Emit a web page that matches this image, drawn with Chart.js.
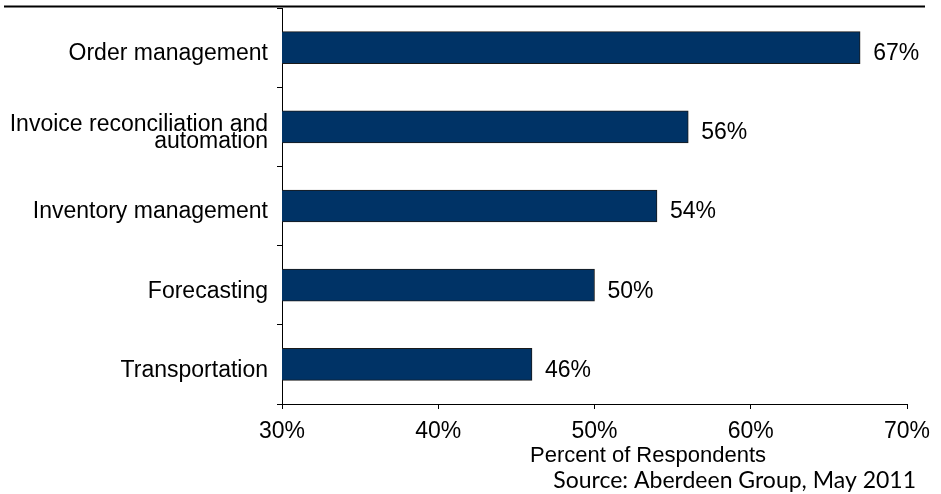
<!DOCTYPE html>
<html lang="en">
<head>
    <meta charset="UTF-8">
    <title>Supply chain areas - Percent of Respondents</title>
    <script src="https://cdn.jsdelivr.net/npm/chart.js"></script>
</head>
<body style="margin:0;background:white;">
    <canvas id="chart" width="941" height="494"></canvas>

    <script>
        // data
        const categories = [
            'Order management',
            ['Invoice reconciliation and', 'automation'],
            'Inventory management',
            'Forecasting',
            'Transportation'
        ];
        const percentValues = [67, 56, 54, 50, 46];
        const xTicks = [30, 40, 50, 60, 70];
        const axisTitle = 'Percent of Respondents';
        const sourceNote = 'Source: Aberdeen Group, May 2011';

        const FONT = "'Liberation Sans', Arial, sans-serif";

        // top rule, value labels, axis title and source line
        const extras = {
            id: 'extras',
            afterDraw(chart) {
                const ctx = chart.ctx;
                const area = chart.chartArea;
                ctx.save();
                ctx.strokeStyle = '#000';
                ctx.lineWidth = 2;
                ctx.beginPath();
                ctx.moveTo(4, area.top - 1.5);
                ctx.lineTo(925, area.top - 1.5);
                ctx.stroke();

                ctx.fillStyle = '#000';
                ctx.font = '23px ' + FONT;
                ctx.textAlign = 'left';
                ctx.textBaseline = 'middle';
                const meta = chart.getDatasetMeta(0);
                meta.data.forEach((bar, i) => {
                    ctx.fillText(percentValues[i] + '%', bar.x + 13, bar.y + 6);
                });

                ctx.font = '22px ' + FONT;
                ctx.textAlign = 'center';
                ctx.fillText(axisTitle, 648, 456);

                ctx.font = '23px Lato, sans-serif';
                ctx.textAlign = 'right';
                ctx.fillText(sourceNote, 916, 481);
                ctx.restore();
            }
        };

        const ctx = document.getElementById('chart').getContext('2d');
        new Chart(ctx, {
            type: 'bar',
            data: {
                labels: categories,
                datasets: [{
                    data: percentValues,
                    backgroundColor: '#003366',
                    borderColor: '#1a1a1a',
                    borderWidth: 1,
                    borderSkipped: false,
                    barThickness: 32
                }]
            },
            options: {
                indexAxis: 'y',
                responsive: false,
                animation: false,
                layout: { padding: { left: 0, top: 8, right: 34, bottom: 0 } },
                plugins: {
                    legend: { display: false },
                    tooltip: { enabled: false }
                },
                scales: {
                    x: {
                        min: 30,
                        max: 70,
                        afterFit: s => { s.height = 90; },
                        afterBuildTicks: s => { s.ticks = xTicks.map(v => ({ value: v })); },
                        ticks: {
                            color: '#000',
                            font: { family: FONT, size: 23 },
                            padding: 9,
                            maxRotation: 0,
                            callback: v => v + '%'
                        },
                        grid: { drawOnChartArea: false, tickLength: 5, color: '#000' },
                        border: { color: '#000', width: 1 }
                    },
                    y: {
                        afterFit: s => {
                            s.width = 282;
                            s.paddingTop = 0;
                            s.paddingBottom = 0;
                        },
                        ticks: {
                            color: '#000',
                            font: { family: FONT, size: 23, lineHeight: 0.75 },
                            padding: 9,
                            labelOffset: 6
                        },
                        grid: { drawOnChartArea: false, offset: true, tickLength: 5, color: '#000' },
                        border: { color: '#000', width: 1 }
                    }
                }
            },
            plugins: [extras]
        });
    </script>
</body>
</html>
